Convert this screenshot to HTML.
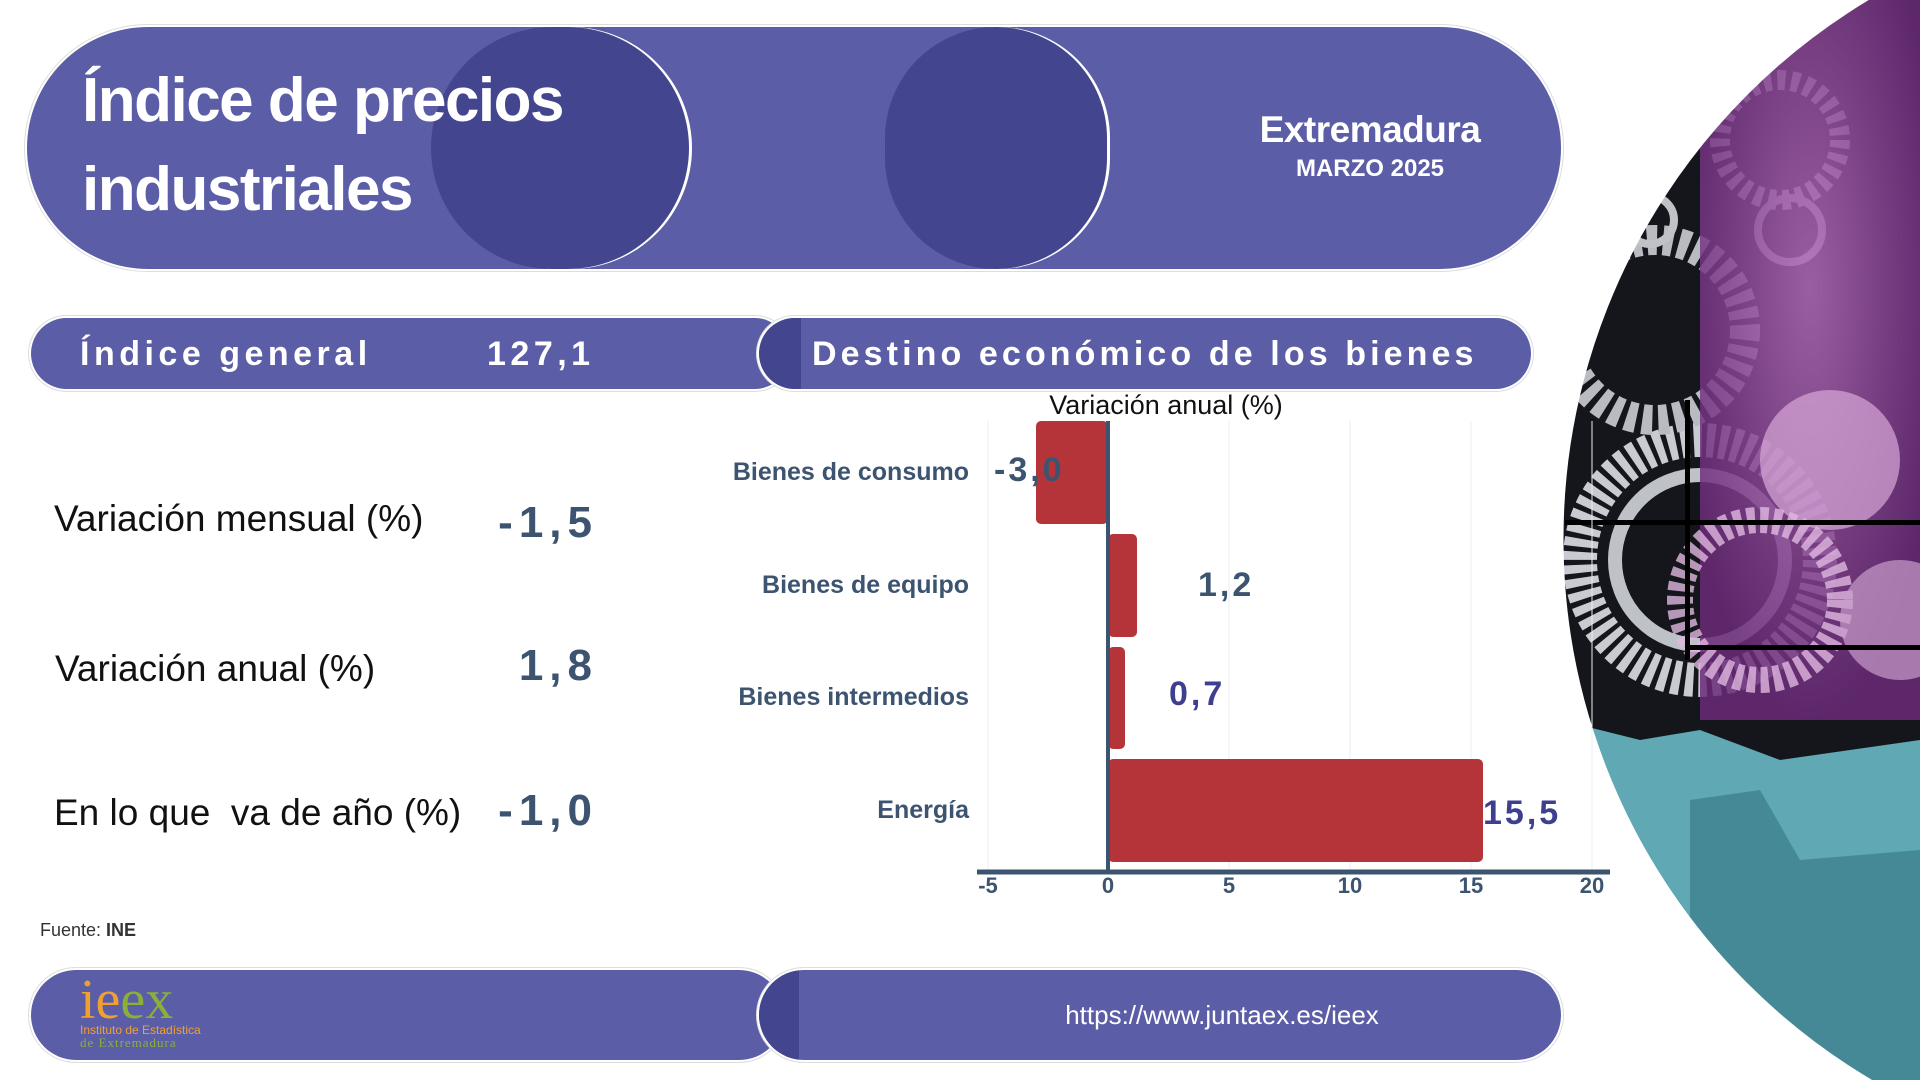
<!DOCTYPE html>
<html style="width:1920px;height:1080px;overflow:hidden"><head><meta charset="utf-8"><style>
*{margin:0;padding:0;box-sizing:border-box}
body{width:1920px;height:1080px;background:#fff;position:relative;overflow:hidden;font-family:"Liberation Sans",sans-serif}
.a{position:absolute}
.pill{position:absolute;background:#5b5ea6;box-shadow:0 0 0 2px #fff,0 0 0 3px #ddd}
.t{position:absolute;white-space:nowrap}
</style></head><body>
<svg class="a" style="left:0;top:0" width="1920" height="1080">
<defs><clipPath id="c"><circle cx="2192" cy="539" r="630"/></clipPath>
<radialGradient id="g1" cx="0.5" cy="0.4" r="0.6"><stop offset="0" stop-color="#b06bb8"/><stop offset="1" stop-color="#6a2a78"/></radialGradient></defs>
<g clip-path="url(#c)">
<rect x="1500" y="0" width="420" height="1080" fill="#15161c"/>
<circle cx="1700" cy="560" r="120" fill="none" stroke="#c9cbd2" stroke-width="34" stroke-dasharray="8 5"/>
<circle cx="1700" cy="560" r="85" fill="none" stroke="#bfc1c9" stroke-width="14"/>
<circle cx="1655" cy="330" r="90" fill="none" stroke="#b9bbc3" stroke-width="30" stroke-dasharray="10 6"/>
<circle cx="1780" cy="140" r="60" fill="none" stroke="#c0c2c8" stroke-width="20" stroke-dasharray="8 6"/>
<circle cx="1650" cy="220" r="24" fill="none" stroke="#c0c2c8" stroke-width="8"/>
<circle cx="1790" cy="230" r="32" fill="none" stroke="#c0c2c8" stroke-width="8"/>
<rect x="1700" y="0" width="220" height="720" fill="url(#g1)" opacity="0.85"/>
<circle cx="1830" cy="460" r="70" fill="#d8a8d8" opacity="0.7"/>
<circle cx="1760" cy="600" r="80" fill="none" stroke="#e0b8e0" stroke-width="26" stroke-dasharray="8 5" opacity="0.8"/>
<circle cx="1900" cy="620" r="60" fill="#c79ccb" opacity="0.7"/>
<path d="M1560 720 L1640 740 L1700 730 L1780 760 L1920 740 L1920 1080 L1560 1080 Z" fill="#5fa8b4"/>
<path d="M1690 800 L1760 790 L1800 860 L1920 850 L1920 1080 L1690 1080Z" fill="#3e8190" opacity="0.8"/>
<rect x="1565" y="520" width="360" height="5" fill="#000"/>
<rect x="1685" y="400" width="5" height="260" fill="#000"/>
<rect x="1685" y="645" width="240" height="5" fill="#000"/>
</g>
<circle cx="2192" cy="539" r="630" fill="none" stroke="#fff" stroke-width="3"/>
</svg>

<div class="pill" style="left:27px;top:27px;width:1534px;height:242px;border-radius:121px;overflow:hidden">
 <div class="a" style="left:404px;top:0;width:258px;height:242px;border-radius:121px;background:#43468f;box-shadow:3px 0 0 0 #fff"></div>
 <div class="a" style="left:858px;top:0;width:222px;height:242px;border-radius:121px;background:#43468f;box-shadow:3px 0 0 0 #fff"></div>
</div>
<div class="t" style="left:82px;top:56px;color:#fff;font-weight:bold;font-size:62px;line-height:89px;letter-spacing:-1.5px">Índice de precios<br>industriales</div>
<div class="t" style="left:1370px;top:109px;transform:translateX(-50%);color:#fff;font-weight:bold;font-size:37px;text-align:center;letter-spacing:-0.5px">Extremadura</div>
<div class="t" style="left:1370px;top:155px;transform:translateX(-50%);color:#fff;font-weight:bold;font-size:24px">MARZO 2025</div>

<div class="pill" style="left:31px;top:318px;width:759px;height:71px;border-radius:36px"></div>
<div class="pill" style="left:759px;top:318px;width:772px;height:71px;border-radius:36px;overflow:hidden">
 <div class="a" style="left:0;top:0;width:42px;height:71px;border-radius:36px 0 0 36px;background:#43468f"></div>
</div>
<div class="t" style="left:80px;top:335px;color:#fff;font-weight:bold;font-size:34px;letter-spacing:4.5px">Índice general</div>
<div class="t" style="left:487px;top:335px;color:#fff;font-weight:bold;font-size:34px;letter-spacing:4.5px">127,1</div>
<div class="t" style="left:812px;top:335px;color:#fff;font-weight:bold;font-size:34px;letter-spacing:4.1px">Destino económico de los bienes</div>

<div class="t" style="left:54px;top:498px;font-size:37px;color:#111">Variación mensual (%)</div>
<div class="t" style="left:598px;top:498px;transform:translateX(-100%);font-size:44px;font-weight:bold;color:#3d5470;letter-spacing:6px">-1,5</div>
<div class="t" style="left:55px;top:648px;font-size:37px;color:#111">Variación anual (%)</div>
<div class="t" style="left:598px;top:641px;transform:translateX(-100%);font-size:44px;font-weight:bold;color:#3d5470;letter-spacing:6px">1,8</div>
<div class="t" style="left:54px;top:792px;font-size:37px;color:#111">En lo que&nbsp; va de año (%)</div>
<div class="t" style="left:598px;top:786px;transform:translateX(-100%);font-size:44px;font-weight:bold;color:#3d5470;letter-spacing:6px">-1,0</div>
<div class="t" style="left:40px;top:920px;font-size:18px;color:#333">Fuente: <b>INE</b></div>

<svg class="a" style="left:0;top:0" width="1920" height="1080" font-family="Liberation Sans, sans-serif">
<g stroke="#eceef2" stroke-width="1">
<line x1="988" y1="421" x2="988" y2="870"/><line x1="1229" y1="421" x2="1229" y2="870"/><line x1="1350" y1="421" x2="1350" y2="870"/><line x1="1471" y1="421" x2="1471" y2="870"/><line x1="1592" y1="421" x2="1592" y2="870"/>
</g>
<text x="1166" y="414" text-anchor="middle" font-size="27" fill="#111">Variación anual (%)</text>
<g fill="#b5343a">
<rect x="1036" y="421" width="72" height="103" rx="5"/>
<rect x="1108" y="534" width="29" height="103" rx="5"/>
<rect x="1108" y="647" width="17" height="102" rx="5"/>
<rect x="1108" y="759" width="375" height="103" rx="5"/>
</g>
<line x1="1108" y1="421" x2="1108" y2="872" stroke="#3d5470" stroke-width="4"/>
<line x1="977" y1="872" x2="1610" y2="872" stroke="#3d5470" stroke-width="5"/>
<g font-size="22" font-weight="bold" fill="#3d5470" text-anchor="middle">
<text x="988" y="893">-5</text><text x="1108" y="893">0</text><text x="1229" y="893">5</text><text x="1350" y="893">10</text><text x="1471" y="893">15</text><text x="1592" y="893">20</text>
</g>
<g font-size="25" font-weight="bold" fill="#3d5470" text-anchor="end">
<text x="969" y="480">Bienes de consumo</text><text x="969" y="593">Bienes de equipo</text><text x="969" y="705">Bienes intermedios</text><text x="969" y="818">Energía</text>
</g>
<g font-size="34" font-weight="bold" letter-spacing="3">
<text x="994" y="481" fill="#3d5470">-3,0</text>
<text x="1198" y="596" fill="#3d5470">1,2</text>
<text x="1169" y="705" fill="#3f3f8f">0,7</text>
<text x="1483" y="824" fill="#3f3f8f">15,5</text>
</g>
</svg>

<div class="pill" style="left:31px;top:970px;width:753px;height:90px;border-radius:45px"></div>
<div class="pill" style="left:759px;top:970px;width:802px;height:90px;border-radius:45px;overflow:hidden">
 <div class="a" style="left:0;top:0;width:40px;height:90px;border-radius:45px 0 0 45px;background:#43468f"></div>
</div>
<div class="t" style="left:80px;top:970px;font-family:'Liberation Serif',serif;font-size:56px;line-height:60px"><span style="color:#f0a030">ie</span><span style="color:#8ab03a">ex</span></div>
<div class="t" style="left:80px;top:1024px;font-size:12px;color:#f0a030;line-height:12px">Instituto de Estadística</div>
<div class="t" style="left:80px;top:1036px;font-family:'Liberation Serif',serif;font-size:13px;color:#8ab03a;line-height:13px;letter-spacing:1px">de Extremadura</div>
<div class="t" style="left:1222px;top:1000px;transform:translateX(-50%);font-size:26px;color:#fff">https://www.juntaex.es/ieex</div>
</body></html>
